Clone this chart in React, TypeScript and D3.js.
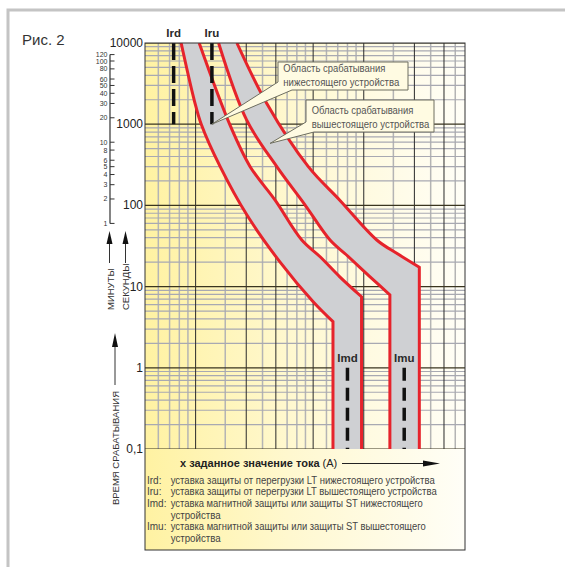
import React from 'react';
import * as d3 from 'd3';

const W = 565;
const H = 567;
const plot = { left: 145, right: 465, top: 43, bottom: 449 };

// кратность тока (x) и время срабатывания, с (y)
const xDomain = [0.5, 40];
const yDomain = [0.1, 10000];

const yMajor = [0.1, 1, 10, 100, 1000, 10000];
const yTickLabels = ['0,1', '1', '10', '100', '1000', '10000'];
const yMinorSteps = [2, 3, 4, 5, 6, 7, 8, 9];
const xMajor = [1, 2, 3, 5, 10, 20, 30];
const xMinor = [0.6, 0.7, 0.8, 0.9, 1.5, 2.5, 3.5, 4, 4.5, 6, 7, 8, 9, 15, 25, 35];
const minuteTicks = [1, 2, 3, 4, 5, 6, 8, 10, 20, 30, 40, 50, 60, 80, 100, 120];

// границы зон срабатывания [I, t]
const downLeft: [number, number][] = [[0.82, 10000], [0.98, 2000], [1.08, 1000], [1.4, 300], [2.02, 76], [3.18, 20], [5.0, 6.5], [6.56, 3.7]];
const downRight: [number, number][] = [[1.05, 10000], [1.6, 980], [2.11, 300], [2.97, 116], [4.28, 37.5], [5.5, 23.3], [7.2, 13.2], [9.7, 7.5]];
const upLeft: [number, number][] = [[1.37, 10000], [2.01, 1130], [3.04, 300], [4.48, 101], [6.3, 37.5], [7.9, 24.5], [10.9, 13.2], [14.3, 7.9]];
const upRight: [number, number][] = [[1.76, 10000], [2.65, 1800], [4.68, 300], [7.2, 116], [11.95, 37.5], [15.7, 25.7], [21.4, 17.3]];

const settingNames = ['Ird', 'Iru', 'Imd', 'Imu'];
const settingCurrents = [0.74, 1.25, 8.0, 17.4];
const settingFrom = [1000, 1000, 0.1, 0.1];
const settingTo = [10000, 10000, 1.0, 1.0];

const legendKeys = ['Ird:', 'Iru:', 'Imd:', '', 'Imu:', ''];
const legendLines = [
  'уставка защиты от перегрузки LT нижестоящего устройства',
  'уставка защиты от перегрузки LT вышестоящего устройства',
  'уставка магнитной защиты или защиты ST нижестоящего',
  'устройства',
  'уставка магнитной защиты или защиты ST вышестоящего',
  'устройства',
];
const legendWidths = [264, 266, 252, 50, 255, 50];

const SANS = '"Liberation Sans", Arial, sans-serif';

const App: React.FC = () => {
  const x = d3.scaleLog().domain(xDomain).range([plot.left, plot.right]);
  const y = d3.scaleLog().domain(yDomain).range([plot.bottom, plot.top]);

  const line = d3.line<[number, number]>()
    .x(d => x(d[0]))
    .y(d => y(d[1]))
    .curve(d3.curveCatmullRom.alpha(0.5));

  const edgePath = (pts: [number, number][]) => {
    const last = pts[pts.length - 1];
    return `${line(pts)}L${x(last[0])},${y(0.1)}`;
  };
  const bandPath = (l: [number, number][], r: [number, number][]) => {
    const ll = l[l.length - 1];
    const rl = r[r.length - 1];
    const back = (line([...r].reverse()) || '').replace(/^M/, 'L');
    return `${line(l)}L${x(ll[0])},${y(0.1)}L${x(rl[0])},${y(0.1)}${back}Z`;
  };

  const yMinor = yMajor.slice(0, -1).flatMap(d => yMinorSteps.map(s => d * s));

  const callout = (bx: number, by: number, bw: number, bh: number, a: number, b: number, tip: [number, number]) => {
    const tx = x(tip[0]);
    const ty = y(tip[1]);
    return `M${bx},${by}H${bx + bw}V${by + bh}H${bx + b}L${tx},${ty}L${bx},${by + bh - a}Z`;
  };

  return (
    <svg width={W} height={H} style={{ position: 'absolute', left: 0, top: 0, background: '#fff' }}>
      <defs>
        <linearGradient id="bg" x1="0" y1="0" x2="1" y2="0">
          <stop offset="0%" stopColor="#fff2a2" />
          <stop offset="45%" stopColor="#fff8cf" />
          <stop offset="100%" stopColor="#fffef7" />
        </linearGradient>
        <clipPath id="pc">
          <rect x={plot.left} y={plot.top} width={plot.right - plot.left} height={plot.bottom - plot.top} />
        </clipPath>
      </defs>

      {/* рамка страницы */}
      <path d={`M8,${H}V10H${W}`} fill="none" stroke="#c4c4c4" strokeWidth={3} />

      <text x={22} y={45} fontFamily={SANS} fontSize={15} fill="#333">Рис. 2</text>

      {/* поле графика и легенда */}
      <rect x={plot.left} y={plot.top} width={plot.right - plot.left} height={550 - plot.top} fill="url(#bg)" />

      <g clipPath="url(#pc)">
        {xMinor.map(v => (
          <line key={'xm' + v} x1={x(v)} x2={x(v)} y1={plot.top} y2={plot.bottom} stroke="#b4b4b4" strokeWidth={1.5} />
        ))}
        {yMinor.map(v => (
          <line key={'ym' + v} x1={plot.left} x2={plot.right} y1={y(v)} y2={y(v)} stroke="#a8a9b2" strokeWidth={1.2} />
        ))}
        {xMajor.map(v => (
          <line key={'xM' + v} x1={x(v)} x2={x(v)} y1={plot.top} y2={plot.bottom} stroke="#2a2a2a" strokeWidth={1} />
        ))}
        {yMajor.map(v => (
          <line key={'yM' + v} x1={plot.left} x2={plot.right} y1={y(v)} y2={y(v)} stroke="#3a3520" strokeWidth={1.2} />
        ))}

        <path d={bandPath(downLeft, downRight)} fill="#cfd0d3" />
        <path d={bandPath(upLeft, upRight)} fill="#cfd0d3" />
        {[downLeft, downRight, upLeft, upRight].map((pts, i) => (
          <path key={'e' + i} d={edgePath(pts)} fill="none" stroke="#e6232b" strokeWidth={3} />
        ))}

        {settingNames.map((n, i) => (
          <line key={'s' + n} x1={x(settingCurrents[i])} x2={x(settingCurrents[i])}
            y1={y(settingTo[i])} y2={y(settingFrom[i])}
            stroke="#111" strokeWidth={3.5} strokeDasharray={i < 2 ? '17 6' : '13 7'} />
        ))}
      </g>

      <rect x={plot.left} y={plot.top} width={plot.right - plot.left} height={550 - plot.top} fill="none" stroke="#333" strokeWidth={1} />

      {settingNames.map((n, i) => (
        <text key={'sl' + n} x={x(settingCurrents[i])} y={i < 2 ? 37 : 362} textAnchor="middle"
          fontFamily={SANS} fontSize={11.5} fontWeight="bold" fill="#2a2a2a">{n}</text>
      ))}

      {/* выноски */}
      <path d={callout(278, 62, 130, 28, 8, 14, [1.25, 1000])} fill="#fffbe2" stroke="#6e6e60" strokeWidth={1} />
      <text x={283.3} y={72} fontFamily={SANS} fontSize={10} fill="#555" textLength={102} lengthAdjust="spacingAndGlyphs">Область срабатывания</text>
      <text x={283.3} y={85.5} fontFamily={SANS} fontSize={10} fill="#555" textLength={116} lengthAdjust="spacingAndGlyphs">нижестоящего устройства</text>

      <path d={callout(306, 100, 128, 32, 10, 8, [2.77, 580])} fill="#fffbe2" stroke="#6e6e60" strokeWidth={1} />
      <text x={311.7} y={113.5} fontFamily={SANS} fontSize={10} fill="#555" textLength={101.7} lengthAdjust="spacingAndGlyphs">Область срабатывания</text>
      <text x={311.7} y={127.5} fontFamily={SANS} fontSize={10} fill="#555" textLength={117.6} lengthAdjust="spacingAndGlyphs">вышестоящего устройства</text>

      {/* ось секунд */}
      {yMajor.map((v, i) => (
        <text key={'yt' + v} x={143} y={y(v)} textAnchor="end" dominantBaseline="central"
          fontFamily={SANS} fontSize={12} fill="#222">{yTickLabels[i]}</text>
      ))}

      {/* ось минут */}
      <line x1={110} x2={110} y1={y(120 * 60)} y2={y(60)} stroke="#333" strokeWidth={1.2} />
      {minuteTicks.map(m => (
        <g key={'mt' + m}>
          <line x1={110} x2={114.5} y1={y(m * 60)} y2={y(m * 60)} stroke="#333" strokeWidth={1} />
          <text x={107.5} y={y(m * 60)} textAnchor="end" dominantBaseline="central"
            fontFamily={SANS} fontSize={7} fill="#333">{m}</text>
        </g>
      ))}

      {/* подписи оси времени */}
      {[109.5, 125.5].map(ax => (
        <g key={'ar' + ax}>
          <line x1={ax} x2={ax} y1={240} y2={263} stroke="#333" strokeWidth={1} />
          <polygon points={`${ax},231 ${ax - 3},244 ${ax + 3},244`} fill="#111" />
        </g>
      ))}
      <text transform="translate(110,310) rotate(-90)" dominantBaseline="central" fontFamily={SANS} fontSize={9.5} fill="#333">МИНУТЫ</text>
      <text transform="translate(125.5,310) rotate(-90)" dominantBaseline="central" fontFamily={SANS} fontSize={9.5} fill="#333">СЕКУНДЫ</text>
      <line x1={115} x2={115} y1={345} y2={385} stroke="#333" strokeWidth={1} />
      <polygon points="115,333 112,347 118,347" fill="#111" />
      <text transform="translate(115,391) rotate(-90)" textAnchor="end" dominantBaseline="central" fontFamily={SANS} fontSize={9.5} fill="#333">ВРЕМЯ СРАБАТЫВАНИЯ</text>

      {/* ось тока */}
      <text x={180} y={467} fontFamily={SANS} fontSize={11} fill="#222">
        <tspan fontWeight="bold">х заданное значение тока</tspan>
        <tspan> (А)</tspan>
      </text>
      <line x1={342} x2={425} y1={463.5} y2={463.5} stroke="#222" strokeWidth={1} />
      <polygon points="440,463.5 423,460.5 423,466.5" fill="#111" />

      {legendLines.map((t, i) => (
        <g key={'lg' + i}>
          {legendKeys[i] && (
            <text x={147} y={483.5 + i * 11.7} fontFamily={SANS} fontSize={10} fill="#444">{legendKeys[i]}</text>
          )}
          <text x={170.7} y={483.5 + i * 11.7} fontFamily={SANS} fontSize={10} fill="#444"
            textLength={legendWidths[i]} lengthAdjust="spacingAndGlyphs">{t}</text>
        </g>
      ))}
    </svg>
  );
};

export default App;
